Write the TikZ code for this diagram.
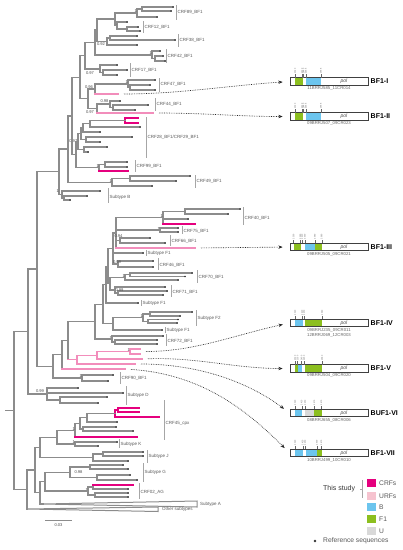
\documentclass[tikz,border=0pt]{standalone}
\usepackage{fontspec}
\setmainfont{Liberation Sans}
\usetikzlibrary{arrows.meta}
\definecolor{tg}{HTML}{8C8C8C}
\definecolor{crf}{HTML}{E5007E}
\definecolor{urf}{HTML}{F28DBB}
\definecolor{urfsw}{HTML}{F6C3CF}
\definecolor{bcol}{HTML}{6CC5EE}
\definecolor{fcol}{HTML}{8CBF1F}
\definecolor{ucol}{HTML}{D9D9D9}
\definecolor{dotc}{HTML}{333333}
\definecolor{labc}{HTML}{5A5A5A}
\newcommand\Vb[4][tg]{\draw[br,draw=#1] (#2,#3) -- (#2,#4);}
\newcommand\Hb[4][tg]{\draw[br,draw=#1] (#2,#4) -- (#3,#4);}
\newcommand\Lf[3]{\draw[br] (#1,#3) -- (#2,#3); \fill[dotc] (#2,#3) circle (0.85);}
\newcommand\Bk[5]{\draw[bk] (#1,#2) -- (#1,#3); \node[clab] at (#1+1.5,#5) {#4};}
\newcommand\Sp[3]{\node[sup,anchor=south east] at (#1,#2) {#3};}
\newcommand\Sc[3]{\node[sup] at (#1,#2) {#3};}
\newcommand\Sg[4]{\fill[#1] (#2,#4-3.75) rectangle (#3,#4+3.75);}
\newcommand\Tk[3]{\draw[black!60,line width=0.35pt] (#1,#2-3.75) -- (#1,#2-7.3);
  \node[rotate=90,anchor=west,font=\fontsize{2.2}{2.2}\selectfont,text=black!55,inner sep=0.2pt] at (#1,#2-7.5) {#3};}
\begin{document}
\begin{tikzpicture}[x=1pt,y=-1pt,
  br/.style={draw=tg,line width=1.1pt,line cap=rect},
  bk/.style={draw=black!35,line width=0.6pt},
  clab/.style={anchor=west,inner sep=0pt,text=labc,font=\fontsize{4.5}{4.5}\selectfont},
  sup/.style={inner sep=0.3pt,text=black!70,font=\fontsize{4.1}{4.1}\selectfont},
  gbox/.style={draw=black!75,line width=0.8pt,minimum width=78pt,minimum height=7.5pt,inner sep=0pt},
  gname/.style={anchor=west,inner sep=0pt,font=\bfseries\fontsize{7}{7}\selectfont},
  samp/.style={anchor=north,inner sep=0pt,align=center,text=black!60,font=\fontsize{4.3}{4.9}\selectfont},
  poltxt/.style={inner sep=0pt,text=black!70,font=\itshape\fontsize{5}{5}\selectfont},
  darr/.style={draw=black!85,line width=0.65pt,dash pattern=on 0.7pt off 1pt,
     -{Stealth[length=4.2pt,width=3.4pt]},shorten <=6pt,shorten >=7pt},
  leg/.style={anchor=west,inner sep=0pt,text=black!65,font=\fontsize{6.7}{6.7}\selectfont}]
\useasboundingbox (0,0) rectangle (403,550);
\fill[white] (0,0) rectangle (403,550);

% ===================== BF CRF clade =====================
% CRF89
\Vb{142}{7}{11} \Lf{142}{173}{7} \Lf{142}{171}{11}
\Vb{137}{9}{17} \Hb{137}{142}{9} \Lf{137}{157}{17}
\Sp{137.3}{13.3}{1}
% CRF12
\Vb{127}{27}{31} \Lf{127}{138}{27} \Lf{127}{140}{31}
\Vb{117}{22}{29} \Lf{117}{127}{22} \Hb{117}{127}{29}
\Sp{117.3}{25.8}{1}
\Vb{115}{13}{25.5} \Hb{115}{137}{13} \Hb{115}{117}{25.5}
% CRF38
\Vb{110}{36}{40} \Lf{110}{137}{36} \Lf{110}{175}{40}
\Vb{107}{38}{45} \Hb{107}{110}{38} \Lf{107}{137}{45}
\Vb{97}{19}{41.5} \Hb{97}{115}{19} \Hb{97}{107}{41.5}
\Sc{101}{44.5}{0.92}
% CRF42
\Vb{155}{56}{61} \Lf{155}{163}{56} \Lf{155}{165}{61}
\Vb{152}{51}{58.5} \Lf{152}{160}{51} \Hb{152}{155}{58.5}
\Sp{152.3}{55}{1}
\Vb{95}{30}{55} \Hb{95}{97}{30} \Hb{95}{152}{55}
% CRF17
\Vb{103}{70}{75} \Lf{103}{127}{70} \Lf{103}{117}{75}
\Vb{100}{65}{72.5} \Lf{100}{117}{65} \Hb{100}{103}{72.5}
\Vb{85}{42.5}{69} \Hb{85}{95}{42.5} \Hb{85}{100}{69}
\Sc{90}{73.5}{0.97}
% CRF47 + BF1-I
\Vb{130}{85}{90} \Lf{130}{150}{85} \Lf{130}{155}{90}
\Vb{128}{80}{87.5} \Lf{128}{155}{80} \Hb{128}{130}{87.5}
\Sp{128.3}{84}{1}
\Vb{95}{84}{94} \Hb{95}{128}{84} \Hb[urf]{95}{118}{94}
\coordinate (e1) at (118,94);
\Sc{89}{87.5}{0.96}
% CRF44 + BF1-II
\Vb{113}{105}{110} \Lf{113}{148}{105} \Lf{113}{135}{110}
\Vb{110}{101}{107.5} \Lf{110}{120}{101} \Hb{110}{113}{107.5}
\Sc{104.5}{101.5}{0.98}
\Vb{97}{104}{113} \Hb{97}{110}{104} \Hb[urf]{97}{153}{113}
\coordinate (e2) at (153,113);
\Sc{90}{112.5}{0.97}
\Vb{88}{89}{108.5} \Hb{88}{95}{89} \Hb{88}{97}{108.5}
\Vb{80}{55.75}{98.75} \Hb{80}{85}{55.75} \Hb{80}{88}{98.75}
% CRF28/CRF29
\Vb[crf]{125}{118}{123} \Hb[crf]{125}{138}{118} \Hb[crf]{125}{138}{123}
\Vb{90}{120.5}{127} \Hb{90}{125}{120.5} \Lf{90}{140}{127}
\Vb{83}{123.75}{132} \Hb{83}{90}{123.75} \Lf{83}{100}{132}
\Vb{86}{137}{142} \Lf{86}{132}{137} \Lf{86}{100}{142}
\Vb{81}{128}{139.5} \Hb{81}{83}{128} \Hb{81}{86}{139.5}
\Vb{84}{147}{152} \Lf{84}{107}{147} \Lf{84}{88}{152}
\Vb{78}{133.75}{149.5} \Hb{78}{81}{133.75} \Hb{78}{84}{149.5}
\Sp{77.8}{143.5}{0.97}
% CRF99
\Vb{105}{162}{167} \Lf{105}{127}{162} \Lf{105}{127}{167}
\Vb{99}{164.5}{171} \Hb{99}{105}{164.5} \Hb[crf]{99}{128}{171}
\Sp{99.3}{168}{1}
\Vb{76}{141.6}{167.75} \Hb{76}{78}{141.6} \Hb{76}{99}{167.75}
\Vb{72}{77.25}{154.7} \Hb{72}{80}{77.25} \Hb{72}{76}{154.7}
% CRF49
\Vb{130}{176}{181} \Lf{130}{190}{176} \Lf{130}{176}{181}
\Vb{112}{178.5}{186} \Hb{112}{130}{178.5} \Lf{112}{152}{186}
\Sp{112.3}{182.5}{1}
\Vb{68}{116}{182.25} \Hb{68}{72}{116} \Hb{68}{112}{182.25}
% Subtype B
\Vb{64}{196}{200} \Lf{64}{87}{196} \Lf{64}{70}{200}
\Vb{62}{191}{198} \Lf{62}{100}{191} \Hb{62}{64}{198}
\Vb{59}{149}{194.5} \Hb{59}{68}{149} \Hb{59}{62}{194.5}
\Sp{59.3}{193}{1}

% ===================== F1 clade =====================
% CRF40
\Vb{185}{209}{214} \Lf{185}{240}{209} \Lf{185}{228}{214}
\Vb{163}{211.5}{224} \Hb{163}{185}{211.5} \Lf{163}{188}{219} \Hb[crf]{163}{195}{224}
\Sp{163.3}{218}{1}
% CRF75
\Vb{160}{228}{232} \Lf{160}{178}{228} \Lf{160}{178}{232}
\Sp{160.3}{230.5}{1}
% CRF66
\Vb{120}{238}{243} \Lf{120}{150}{238} \Lf{120}{165}{243}
\Vb{116}{217.75}{248} \Hb{116}{163}{217.75} \Hb{116}{160}{230} \Hb{116}{120}{240.5}
\Hb[urf]{116}{195}{248}
\coordinate (e3) at (195,248);
\Sc{118.5}{236.5}{0.94}
% F1 + CRF46
\Vb{118}{261}{267} \Lf{118}{153}{261} \Lf{118}{153}{267}
\Vb{113}{233}{264} \Hb{113}{116}{233} \Lf{113}{143}{253} \Hb{113}{118}{264}
\Sc{117}{262.5}{0.99}
% CRF70
\Vb{130}{273}{276.5} \Lf{130}{192}{273} \Lf{130}{185}{276.5}
\Vb{125}{274.75}{280} \Hb{125}{130}{274.75} \Lf{125}{178}{280}
\Sp{125.3}{277.5}{1}
% CRF71
\Vb{118}{291}{295} \Lf{118}{167}{291} \Lf{118}{163}{295}
\Vb{115}{287}{293} \Lf{115}{165}{287} \Hb{115}{118}{293}
\Sc{119.5}{290}{0.99}
\Vb{110}{277.4}{290} \Hb{110}{125}{277.4} \Hb{110}{115}{290}
\Vb{108}{248.5}{283.7} \Hb{108}{113}{248.5} \Hb{108}{110}{283.7}
\Vb{106}{266.1}{303} \Hb{106}{108}{266.1} \Lf{106}{138}{303}
% Subtype F2
\Vb{150}{312}{316} \Lf{150}{192}{312} \Lf{150}{180}{316}
\Vb{148}{319.5}{323} \Lf{148}{178}{319.5} \Lf{148}{177}{323}
\Vb{143}{314}{321.25} \Hb{143}{150}{314} \Hb{143}{148}{321.25}
\Sp{143.3}{318}{1}
\Vb{113}{317.6}{330} \Hb{113}{143}{317.6} \Lf{113}{162}{330}
\Vb{103}{284.5}{323.8} \Hb{103}{106}{284.5} \Hb{103}{113}{323.8}
% CRF72
\Vb{115}{340}{344} \Lf{115}{157}{340} \Lf{115}{157}{344}
\Vb{112}{336}{342} \Lf{112}{163}{336} \Hb{112}{115}{342}
\Sp{112.3}{339.5}{1}
\Vb{95}{304.2}{339} \Hb{95}{103}{304.2} \Hb{95}{112}{339}
% URFs of this study
\Vb[urf]{130}{349}{354} \Hb[urf]{130}{140}{349} \Hb[urf]{130}{140}{354}
\Sp{130.3}{351.5}{1}
\coordinate (e4) at (140,351.5);
\Vb[urf]{97}{351.5}{359} \Hb[urf]{97}{130}{351.5} \Hb[urf]{97}{142}{359}
\coordinate (e5) at (142,359);
\Vb[urf]{77}{355.25}{364} \Hb[urf]{77}{97}{355.25} \Hb[urf]{77}{135}{364}
\coordinate (e6) at (135,364);
\Vb{68}{321.6}{359.6} \Hb{68}{95}{321.6} \Hb[urf]{68}{77}{359.6}
\Vb{62}{340.6}{369} \Hb{62}{68}{340.6} \Hb[urf]{62}{125}{369}
\coordinate (e7) at (125,369);
% CRF90
\Vb{82}{375}{381} \Lf{82}{113}{375} \Lf{82}{108}{381}
\Sp{82.3}{378}{1}
\Vb{53}{354.8}{378} \Hb{53}{62}{354.8} \Hb{53}{82}{378}
\Vb{37}{171.75}{366.4} \Hb{37}{59}{171.75} \Hb{37}{53}{366.4}
% Subtype D
\Vb{60}{397}{403} \Lf{60}{107}{397} \Lf{60}{98}{403}
\Vb{47}{388}{400} \Lf{47}{78}{388} \Lf{47}{123}{393} \Hb{47}{60}{400}
\node[sup,anchor=south west] at (35.5,393.5) {0.99};
\Vb{28}{269}{394} \Hb{28}{37}{269} \Hb{28}{47}{394}

% ===================== lower part =====================
% CRF45_cpx
\Vb[crf]{118}{408}{412} \Hb[crf]{118}{139}{408} \Hb[crf]{118}{139}{412}
\Vb[crf]{115}{410}{417} \Hb[crf]{115}{118}{410} \Hb[crf]{115}{159}{417}
\Vb{87}{413.5}{422} \Hb{87}{115}{413.5} \Lf{87}{117}{422}
\Vb{83}{427}{431} \Lf{83}{116}{427} \Lf{83}{133}{431}
\Vb{80}{417.75}{429} \Hb{80}{87}{417.75} \Hb{80}{83}{429}
\Vb{75}{423.4}{437} \Hb{75}{80}{423.4} \Hb[crf]{75}{137}{437}
\Sp{75.3}{430.5}{1}
% Subtype K
\Vb{75}{442}{446} \Lf{75}{117}{442} \Lf{75}{98}{446}
\Sp{75.3}{444.3}{1}
\Vb{57}{430.2}{444} \Hb{57}{75}{430.2} \Hb{57}{75}{444}
% Subtype J
\Vb{103}{452}{456} \Lf{103}{143}{452} \Lf{103}{143}{456}
\Vb{93}{454}{461} \Hb{93}{103}{454} \Lf{93}{128}{461}
\Vb{40}{437.1}{457.5} \Hb{40}{57}{437.1} \Hb{40}{93}{457.5}
% Subtype G
\Vb{90}{465}{469} \Lf{90}{123}{465} \Lf{90}{128}{469}
\Vb{97}{475}{480} \Lf{97}{130}{475} \Lf{97}{137}{480}
\Vb{70}{467}{477.5} \Hb{70}{90}{467} \Hb{70}{97}{477.5}
\Sc{78.5}{471.8}{0.98}
% CRF02_AG
\Vb{93}{485}{489} \Hb[crf]{93}{133}{485} \Lf{93}{128}{489}
\Vb{95}{493}{497} \Lf{95}{128}{493} \Lf{95}{128}{497}
\Vb{88}{487}{495} \Hb{88}{93}{487} \Hb{88}{95}{495}
\Sp{88.3}{491.5}{1}
\Vb{45}{472.25}{491} \Hb{45}{70}{472.25} \Hb{45}{88}{491}
% Subtype A, other subtypes
\Vb{40}{481.6}{504} \Hb{40}{45}{481.6} \Hb{40}{43}{504}
\draw[draw=tg,line width=1pt,line join=miter] (43,504) -- (197,501) -- (197,507) -- cycle;
\Vb{35}{447.3}{492.8} \Hb{35}{40}{447.3} \Hb{35}{40}{492.8}
\Vb{27}{470}{509} \Hb{27}{35}{470}
\draw[draw=tg,line width=1pt,line join=miter] (27,509) -- (158,507) -- (158,511.5) -- cycle;
\Vb{14}{331.5}{489.5} \Hb{14}{28}{331.5} \Hb{14}{27}{489.5} \Hb{6}{14}{410.5}

% ===================== clade labels =====================
\Bk{176}{5}{20}{CRF89\_BF1}{12}
\Bk{143}{21}{33}{CRF12\_BF1}{27}
\Bk{178}{34}{47}{CRF38\_BF1}{40}
\Bk{166}{49}{63}{CRF42\_BF1}{56}
\Bk{130}{63}{77}{CRF17\_BF1}{70}
\Bk{159}{78}{92}{CRF47\_BF1}{84}
\Bk{155}{98}{111}{CRF44\_BF1}{104}
\Bk{146}{117}{158}{CRF28\_BF1/CRF29\_BF1}{137}
\Bk{135}{160}{172}{CRF99\_BF1}{166}
\Bk{195}{175}{188}{CRF49\_BF1}{181}
\Bk{108}{188}{203}{Subtype B}{197}
\Bk{243}{207}{225}{CRF40\_BF1}{218}
\Bk{182}{226}{234}{CRF75\_BF1}{231}
\Bk{170}{235}{246}{CRF66\_BF1}{241}
\Bk{146}{250}{256}{Subtype F1}{253}
\Bk{158}{258}{270}{CRF46\_BF1}{265}
\Bk{197}{270}{283}{CRF70\_BF1}{277}
\Bk{171}{285}{297}{CRF71\_BF1}{292}
\Bk{141}{300}{306}{Subtype F1}{303}
\Bk{196}{310}{326}{Subtype F2}{318}
\Bk{165}{327}{333}{Subtype F1}{330.5}
\Bk{166}{334}{346}{CRF72\_BF1}{341}
\Bk{120}{372}{384}{CRF90\_BF1}{378}
\Bk{126}{386}{405}{Subtype D}{395}
\Bk{164}{400}{440}{CRF45\_cpx}{423}
\Bk{119}{439}{448}{Subtype K}{444}
\Bk{147}{450}{463}{Subtype J}{456}
\Bk{143}{463}{482}{Subtype G}{472}
\Bk{139}{483}{499}{CRF02\_AG}{492}
\node[clab] (labA) at (200,504) {Subtype A};
\node[clab] (labO) at (162,509.5) {Other subtypes};

% scale bar
\draw[draw=tg,line width=0.9pt] (45,520) -- (72,520);
\node[sup] (scl) at (58.5,525.5) {0.03};

% ===================== genome maps =====================
% BF1-I
\Sg{fcol}{295}{303.3}{81.5} \Sg{bcol}{305.9}{320.9}{81.5}
\node[gbox] (b1) at (329,81.5) {};
\node[poltxt] at (344,81.5) {pol};
\Tk{295}{81.5}{2320} \Tk{302}{81.5}{2420} \Tk{303.6}{81.5}{2440} \Tk{305.9}{81.5}{2466} \Tk{320.9}{81.5}{2668}
\node[gname] (n1) at (370.5,81.5) {BF1-I};
\node[samp] at (329,86.5) {11BRRJ585\_11CR014};
% BF1-II
\Sg{fcol}{295}{303.3}{116.5} \Sg{bcol}{305.9}{320.9}{116.5}
\node[gbox] (b2) at (329,116.5) {};
\node[poltxt] at (344,116.5) {pol};
\Tk{295}{116.5}{2320} \Tk{302}{116.5}{2420} \Tk{303.6}{116.5}{2440} \Tk{305.9}{116.5}{2466} \Tk{320.9}{116.5}{2668}
\node[gname] (n2) at (370.5,116.5) {BF1-II};
\node[samp] at (329,121.5) {09BRRJ507\_09CR023};
% BF1-III
\Sg{fcol}{294}{301}{247} \Sg{bcol}{304.9}{314.9}{247} \Sg{fcol}{314.9}{322.2}{247}
\node[gbox] (b3) at (329,247) {};
\node[poltxt] at (344,247) {pol};
\Tk{293.5}{247}{2300} \Tk{300.4}{247}{2390} \Tk{302.2}{247}{2420} \Tk{304.8}{247}{2450} \Tk{314.9}{247}{2580} \Tk{321.7}{247}{2680}
\node[gname] (n3) at (370.5,247) {BF1-III};
\node[samp] at (329,252) {09BRRJ505\_09CR021};
% BF1-IV
\Sg{bcol}{295}{302.7}{323} \Sg{fcol}{305.4}{322.1}{323}
\node[gbox] (b4) at (329,323) {};
\node[poltxt] at (344,323) {pol};
\Tk{295}{323}{2320} \Tk{302}{323}{2420} \Tk{304}{323}{2450} \Tk{322}{323}{2680}
\node[gname] (n4) at (370.5,323) {BF1-IV};
\node[samp] at (329,328) {09BRRJ235\_09CR011\\12BRRJ069\_12CR003};
% BF1-V
\Sg{fcol}{295}{298.4}{368.5} \Sg{bcol}{298.4}{302.1}{368.5} \Sg{fcol}{305.4}{322.1}{368.5}
\node[gbox] (b5) at (329,368.5) {};
\node[poltxt] at (344,368.5) {pol};
\Tk{295}{368.5}{2320} \Tk{297.5}{368.5}{2350} \Tk{301.5}{368.5}{2400} \Tk{304}{368.5}{2450} \Tk{322}{368.5}{2680}
\node[gname] (n5) at (370.5,368.5) {BF1-V};
\node[samp] at (329,373.5) {09BRRJ504\_09CR020};
% BUF1-VI
\Sg{bcol}{295}{301.7}{413} \Sg{ucol}{305.4}{314.4}{413} \Sg{fcol}{314.4}{321.8}{413}
\node[gbox] (b6) at (329,413) {};
\node[poltxt] at (344,413) {pol};
\Tk{295}{413}{2320} \Tk{301.7}{413}{2410} \Tk{305}{413}{2450} \Tk{314.4}{413}{2570} \Tk{321.4}{413}{2670}
\node[gname] (n6) at (370.5,413) {BUF1-VI};
\node[samp] at (329,418) {08BRRJ655\_08CR006};
% BF1-VII
\Sg{bcol}{295}{302.7}{453} \Sg{bcol}{306.1}{316.8}{453} \Sg{fcol}{316.8}{321.8}{453}
\node[gbox] (b7) at (329,453) {};
\node[poltxt] at (344,453) {pol};
\Tk{295}{453}{2320} \Tk{302.7}{453}{2420} \Tk{305.2}{453}{2450} \Tk{316.8}{453}{2600} \Tk{321.4}{453}{2670}
\node[gname] (n7) at (370.5,453) {BF1-VII};
\node[samp] at (329,458) {10BRRJ499\_10CR010};

% dotted connectors
\draw[darr] (e1) .. controls +(60,0) and +(-60,4) .. (b1.west);
\draw[darr] (e2) .. controls +(50,0) and +(-50,0) .. (b2.west);
\draw[darr] (e3) -- (b3.west);
\draw[darr] (e4) .. controls +(55,0) and +(-55,12) .. (b4.west);
\draw[darr] (e5) .. controls +(55,-2) and +(-55,0) .. (b5.west);
\draw[darr] (e6) .. controls +(65,0) and +(-40,-30) .. (b6.west);
\draw[darr] (e7) .. controls +(75,5) and +(-45,-45) .. (b7.west);

% ===================== legend =====================
\node[leg,text=black!80,font=\fontsize{7}{7}\selectfont] (ts) at (323,489) {This study};
\draw[bk] (362,480) -- (362,498) (362,489) -- (360,489);
\fill[crf] (367,479) rectangle (376,487);  \node[leg] (l1) at (379,483) {CRFs};
\fill[urfsw] (367,492) rectangle (376,500); \node[leg] (l2) at (379,496) {URFs};
\fill[bcol] (367,503) rectangle (376,511);  \node[leg] (l3) at (379,507) {B};
\fill[fcol] (367,515) rectangle (376,523);  \node[leg] (l4) at (379,519) {F1};
\fill[ucol] (367,527) rectangle (376,535);  \node[leg] (l5) at (379,531) {U};
\fill[dotc] (315,541) circle (1.4);
\node[leg] (l6) at (323,541) {Reference sequences};
\end{tikzpicture}
\end{document}
